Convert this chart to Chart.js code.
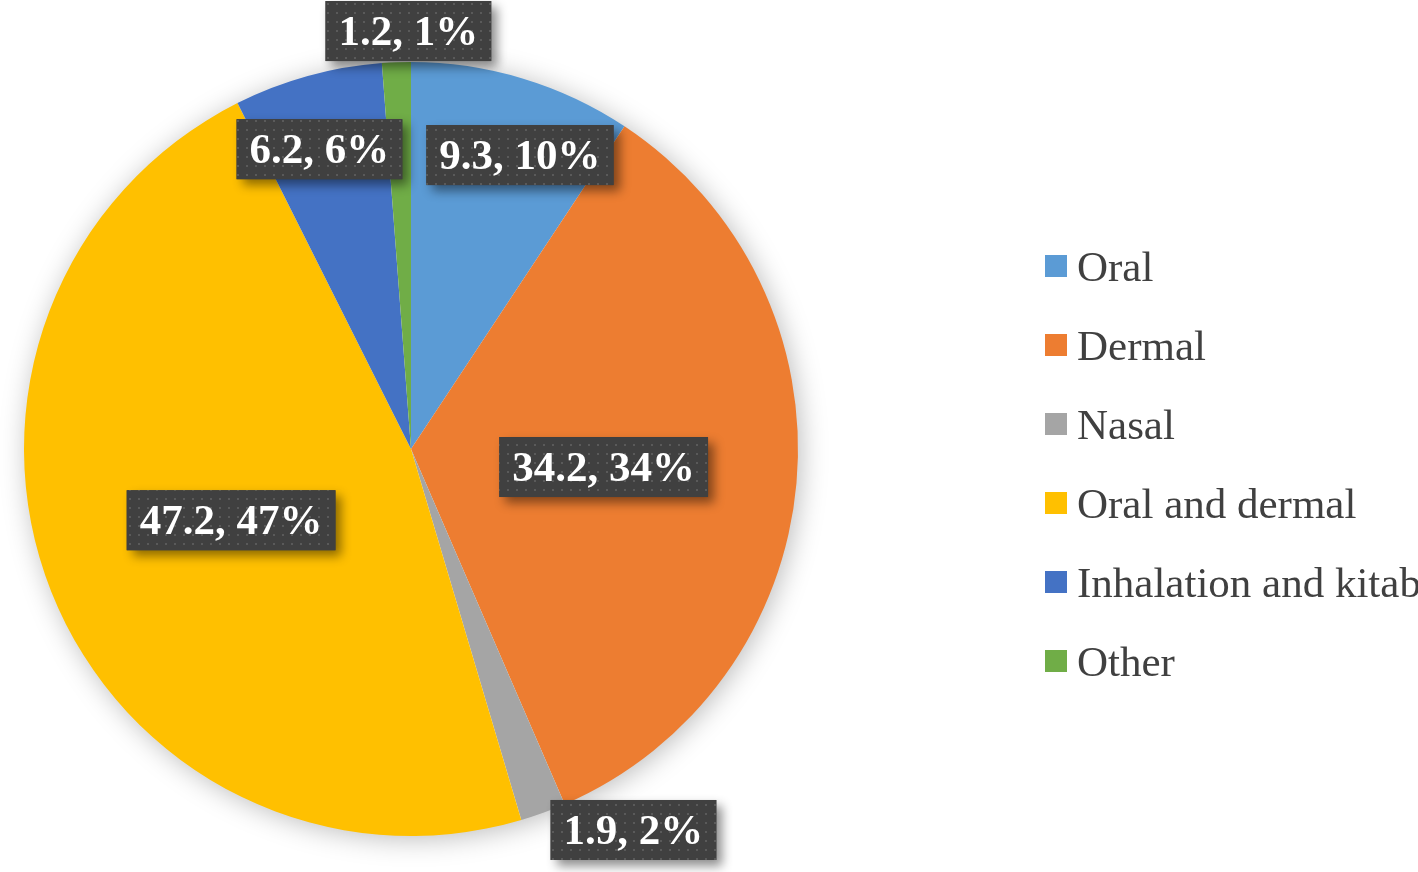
<!DOCTYPE html>
<html>
<head>
<meta charset="utf-8">
<script src="https://cdn.jsdelivr.net/npm/chart.js@4/dist/chart.umd.min.js"></script>
<style>
html,body{margin:0;padding:0;background:#fff;}
#wrap{width:1418px;height:872px;position:relative;}
</style>
</head>
<body>
<div id="wrap"><canvas id="c" width="1418" height="872"></canvas></div>
<script>
const categories = ["Oral", "Dermal", "Nasal", "Oral and dermal", "Inhalation and kitab", "Other"];
const values = [9.3, 34.2, 1.9, 47.2, 6.2, 1.2];
const percentLabels = ["10%", "34%", "2%", "47%", "6%", "1%"];
const colors = ["#5B9BD5", "#ED7D31", "#A5A5A5", "#FFC000", "#4472C4", "#70AD47"];

// label placement: [radius factor, angle shift in degrees]
const labelPlacement = [[0.81, 3.6], [0.5, 0.3], [1.14, -10.3], [0.5, 0], [0.81, -1.5], [1.08, 1.8]];

const SERIF = '"Liberation Serif", "Times New Roman", serif';

function makePattern(ctx) {
  const p = document.createElement('canvas');
  p.width = 9; p.height = 9;
  const pc = p.getContext('2d');
  pc.fillStyle = '#404040';
  pc.fillRect(0, 0, 9, 9);
  pc.fillStyle = '#5a5a5a';
  pc.fillRect(3, 3, 2, 2);
  return ctx.createPattern(p, 'repeat');
}

const shadowPlugin = {
  id: 'pieShadow',
  beforeDatasetsDraw(chart) {
    const arc = chart.getDatasetMeta(0).data[0];
    if (!arc) return;
    const ctx = chart.ctx;
    ctx.save();
    ctx.shadowColor = 'rgba(0,0,0,0.28)';
    ctx.shadowBlur = 28;
    ctx.shadowOffsetX = 3;
    ctx.shadowOffsetY = 3;
    ctx.fillStyle = '#ffffff';
    ctx.beginPath();
    ctx.arc(arc.x, arc.y, arc.outerRadius - 1, 0, Math.PI * 2);
    ctx.fill();
    ctx.restore();
  }
};

const labelPlugin = {
  id: 'boxLabels',
  afterDatasetsDraw(chart) {
    const ctx = chart.ctx;
    const meta = chart.getDatasetMeta(0);
    const pattern = makePattern(ctx);
    ctx.save();
    ctx.font = 'bold 43px ' + SERIF;
    meta.data.forEach((arc, i) => {
      const [f, shift] = labelPlacement[i];
      const mid = (arc.startAngle + arc.endAngle) / 2 + shift * Math.PI / 180;
      const cx = arc.x + Math.cos(mid) * arc.outerRadius * f;
      const cy = arc.y + Math.sin(mid) * arc.outerRadius * f;
      const text = values[i].toFixed(1) + ', ' + percentLabels[i];
      const w = ctx.measureText(text).width + 26;
      const h = 60;
      ctx.save();
      ctx.shadowColor = 'rgba(0,0,0,0.45)';
      ctx.shadowBlur = 10;
      ctx.shadowOffsetX = 6;
      ctx.shadowOffsetY = 6;
      ctx.fillStyle = '#404040';
      ctx.fillRect(cx - w / 2, cy - h / 2, w, h);
      ctx.restore();
      ctx.fillStyle = pattern;
      ctx.fillRect(cx - w / 2, cy - h / 2, w, h);
      ctx.fillStyle = '#ffffff';
      ctx.textAlign = 'center';
      ctx.textBaseline = 'alphabetic';
      ctx.fillText(text, cx, cy + 14);
    });
    ctx.restore();
  }
};

const legendPlugin = {
  id: 'sideLegend',
  afterDraw(chart) {
    const ctx = chart.ctx;
    const ds = chart.data.datasets[0];
    ctx.save();
    ctx.font = '43px ' + SERIF;
    ctx.textAlign = 'left';
    ctx.textBaseline = 'alphabetic';
    chart.data.labels.forEach((lab, i) => {
      const yc = 266 + i * 79;
      ctx.fillStyle = ds.backgroundColor[i];
      ctx.fillRect(1045, yc - 11, 22, 22);
      ctx.fillStyle = '#404040';
      ctx.fillText(lab, 1077, yc + 15);
    });
    ctx.restore();
  }
};

new Chart(document.getElementById('c'), {
  type: 'pie',
  data: {
    labels: categories,
    datasets: [{
      data: values,
      backgroundColor: colors,
      borderWidth: 0
    }]
  },
  options: {
    responsive: false,
    animation: false,
    layout: { padding: { top: 62, bottom: 36, left: 24, right: 620 } },
    plugins: {
      legend: { display: false },
      tooltip: { enabled: false }
    }
  },
  plugins: [shadowPlugin, labelPlugin, legendPlugin]
});
</script>
</body>
</html>
